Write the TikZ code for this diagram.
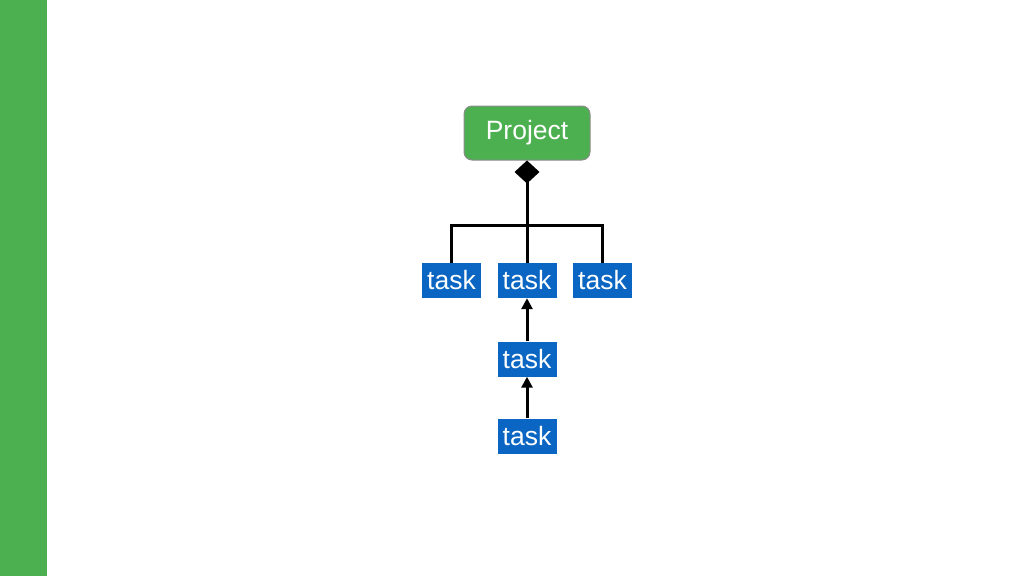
\documentclass[tikz,border=0pt]{standalone}
\usepackage{fontspec}
\setmainfont{Liberation Sans}
\usetikzlibrary{arrows.meta}
\definecolor{gbar}{HTML}{4CAF50}
\definecolor{tblue}{HTML}{0A66C2}
\begin{document}
\begin{tikzpicture}[x=1pt,y=-1pt,
  taskbox/.style={fill=tblue,text=white,minimum width=59pt,minimum height=35pt,inner sep=0pt,font=\fontsize{26.5}{30}\selectfont},
  projbox/.style={fill=gbar,draw=black!45,line width=1pt,rounded corners=8pt,text=white,minimum width=126pt,minimum height=54pt,inner sep=0pt,font=\fontsize{26.5}{30}\selectfont},
  conn/.style={line width=3pt,black}]
\useasboundingbox (0,0) rectangle (1024,576);
\fill[gbar] (0,0) rectangle (47,576);
\node[projbox] (P) at (527,133) {Project};
\node[taskbox] (t1) at (451.5,280.5) {task};
\node[taskbox] (t2) at (527,280.5) {task};
\node[taskbox] (t3) at (602.5,280.5) {task};
\node[taskbox] (t4) at (527,359) {task};
\node[taskbox] (t5) at (527,436) {task};
\coordinate (j) at (527,225);
\draw[conn,{Diamond[length=23pt,width=25pt]}-] (P.south) -- (t2.north);
\draw[conn] (t1.north) |- (j) -| (t3.north);
\draw[conn,-{Triangle[length=11pt,width=11pt]}] (t4.north) -- (t2.south);
\draw[conn,-{Triangle[length=11pt,width=11pt]}] (t5.north) -- (t4.south);
\end{tikzpicture}
\end{document}
